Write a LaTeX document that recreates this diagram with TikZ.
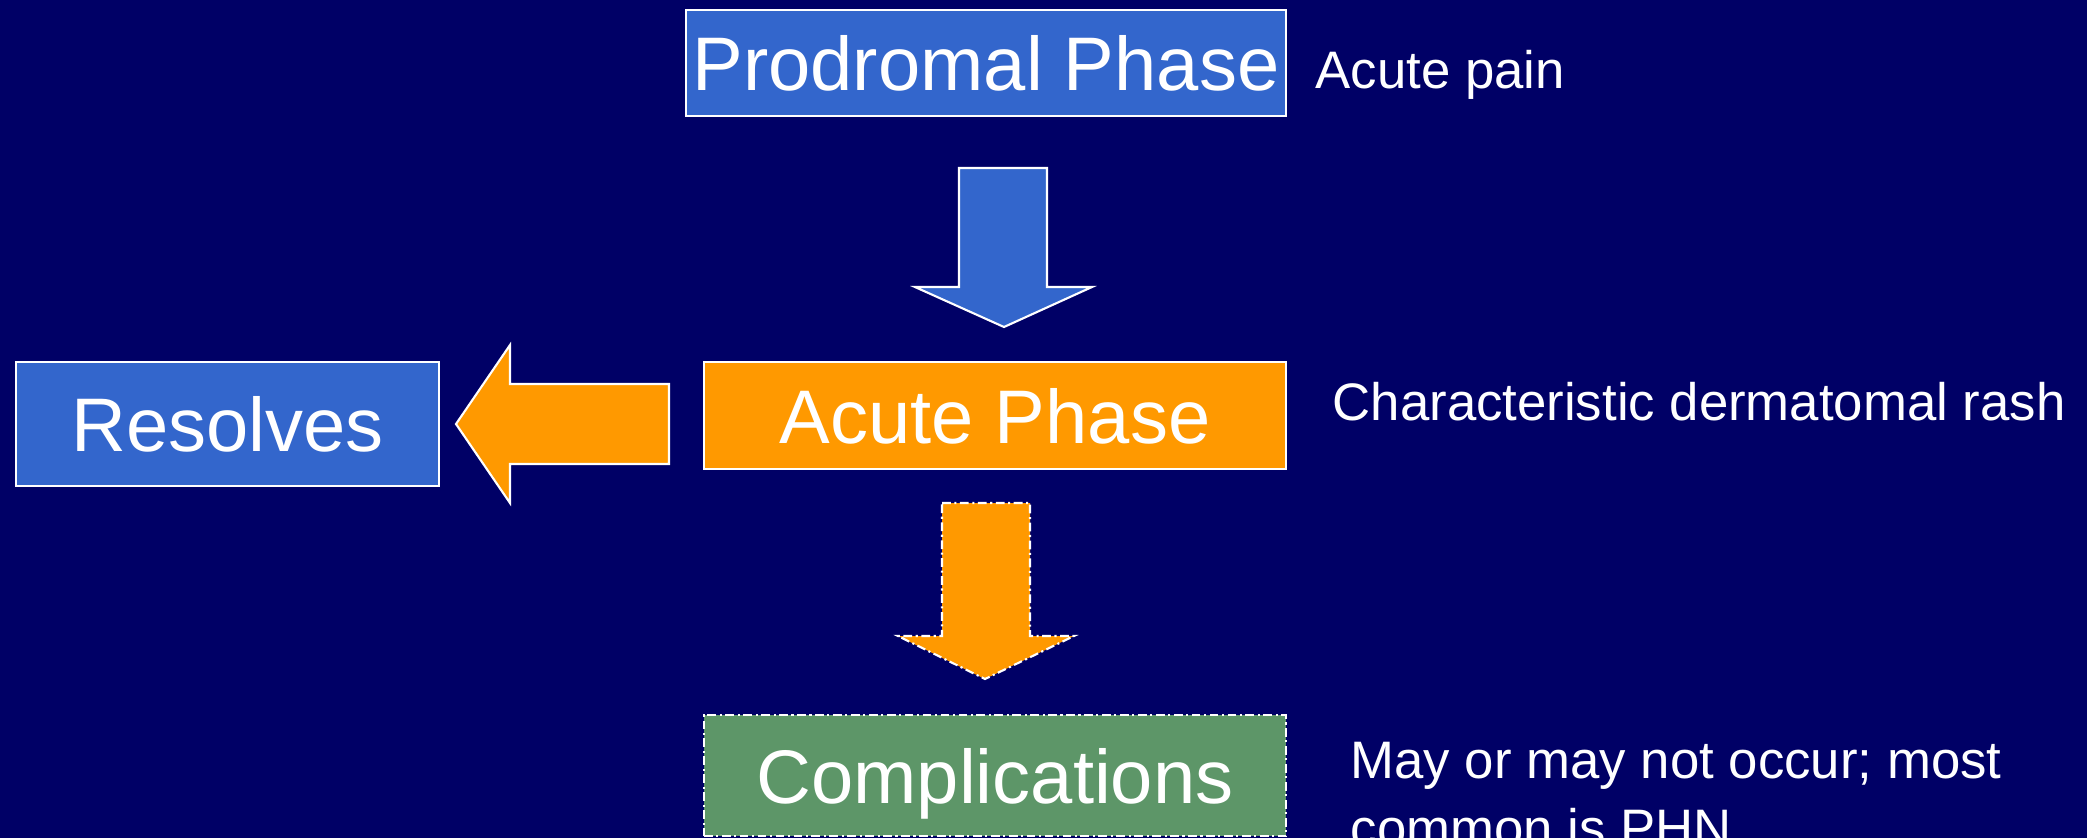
\documentclass[tikz,border=0pt]{standalone}
\usepackage{fontspec}
\setmainfont{Liberation Sans}
\definecolor{slidebg}{RGB}{0,0,102}
\definecolor{phaseblue}{RGB}{51,102,204}
\definecolor{phaseorange}{RGB}{255,153,0}
\definecolor{phasegreen}{RGB}{93,150,104}
\tikzset{
  phase/.style={draw=white, line width=0.6pt, inner sep=0pt, text=white,
    text depth=0pt, font=\fontsize{21.6}{26}\selectfont},
  note/.style={text=white, inner sep=0pt, anchor=base west, align=left,
    font=\fontsize{15}{19.3}\selectfont},
  blockarrow/.style={draw=white, line width=0.6pt, line join=miter},
  dashdot/.style={dash pattern=on 2.5pt off 1pt on 0.6pt off 1pt}
}
\begin{document}
\begin{tikzpicture}[x=0.01cm,y=-0.01cm]
  \useasboundingbox (0,0) rectangle (2087,838);
  \fill[slidebg] (0,0) rectangle (2087,838);
  \clip (0,0) rectangle (2087,838);

  % phases
  \node[phase, fill=phaseblue, minimum width=6cm, minimum height=1.06cm]
    (prodromal) at (986,63) {Prodromal Phase};
  \node[phase, fill=phaseorange, minimum width=5.82cm, minimum height=1.07cm]
    (acute) at (995,415.5) {Acute Phase};
  \node[phase, fill=phaseblue, minimum width=4.23cm, minimum height=1.24cm]
    (resolves) at (227.5,424) {Resolves};
  \node[phase, dashdot, fill=phasegreen, minimum width=5.82cm, minimum height=1.21cm]
    (complications) at (995,775.5) {Complications};

  % notes (base of a two-line note is its last line)
  \node[note] (painnote) at (1315,88) {Acute pain};
  \node[note] (rashnote) at (1332,420) {Characteristic dermatomal rash};
  \node[note] (phnnote) at (1350,846) {May or may not occur; most\\common is PHN};

  % block arrows
  \draw[blockarrow, fill=phaseblue]
    (959,168) -- (1047,168) -- (1047,287) -- (1092,287) -- (1004,327)
    -- (915,287) -- (959,287) -- cycle;
  \draw[blockarrow, fill=phaseorange]
    (669,384) -- (510,384) -- (510,345) -- (456,424) -- (510,503)
    -- (510,464) -- (669,464) -- cycle;
  \draw[blockarrow, dashdot, fill=phaseorange]
    (942,503) -- (1030,503) -- (1030,636) -- (1074,636) -- (985,679)
    -- (898,636) -- (942,636) -- cycle;
\end{tikzpicture}
\end{document}
